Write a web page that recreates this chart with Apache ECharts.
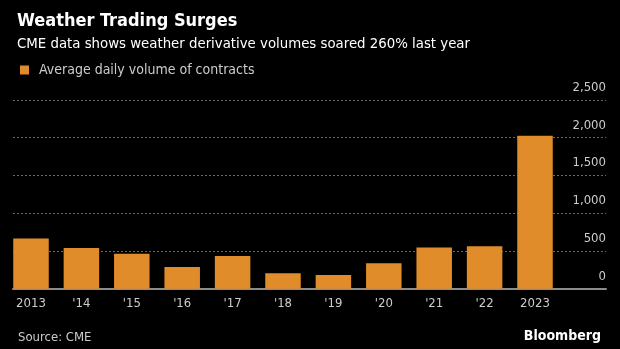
<!DOCTYPE html>
<html>
<head>
<meta charset="utf-8">
<script src="https://cdn.jsdelivr.net/npm/echarts@6/dist/echarts.min.js"></script>
<style>
html,body{margin:0;padding:0;background:#000;}
#chart{width:620px;height:349px;}
</style>
</head>
<body>
<div id="chart"></div>
<script>
var categories = ['2013', "'14", "'15", "'16", "'17", "'18", "'19", "'20", "'21", "'22", '2023'];
var volumes = [665, 540, 462, 287, 432, 205, 180, 338, 545, 563, 2025];
var yTicks = [0, 500, 1000, 1500, 2000, 2500];

var FONT = '"DejaVu Sans Condensed", "DejaVu Sans", sans-serif';
var chart = echarts.init(document.getElementById('chart'), null, {renderer: 'canvas'});
var option = {
  backgroundColor: '#000',
  animation: false,
  title: [
    {text: 'Weather Trading Surges', left: 12, top: 7,
     textStyle: {color: '#fff', fontSize: 18, fontWeight: 'bold', fontFamily: FONT}},
    {text: 'CME data shows weather derivative volumes soared 260% last year', left: 12, top: 32,
     textStyle: {color: '#fff', fontSize: 14.8, fontWeight: 'normal', fontFamily: FONT}},
    {text: 'Source: CME', left: 13, top: 326,
     textStyle: {color: '#ccc', fontSize: 13, fontWeight: 'normal', fontFamily: FONT}},
    {text: 'Bloomberg', right: 14, top: 324,
     textStyle: {color: '#fff', fontSize: 14, fontWeight: 'bold', fontFamily: FONT}}
  ],
  legend: {
    left: 15, top: 58, icon: 'rect', itemWidth: 9, itemHeight: 9,
    textStyle: {color: '#ccc', fontSize: 14, fontFamily: FONT, padding: [0, 0, 0, 5]},
    data: ['Average daily volume of contracts']
  },
  grid: [
    {left: 5.8, right: 9.4, top: 100, bottom: 60.3},
    {left: 13, right: 14, top: 100, bottom: 60.3}
  ],
  xAxis: [
    {type: 'category', gridIndex: 0, data: categories.concat(['']),
     axisLine: {show: false}, axisTick: {show: false},
     axisLabel: {color: '#ccc', fontSize: 13, fontFamily: FONT, margin: 8, interval: 0}},
    {type: 'value', gridIndex: 1, min: 0, max: 1,
     axisLine: {show: true, lineStyle: {color: '#8c8c8c', width: 2}},
     axisTick: {show: false}, axisLabel: {show: false}, splitLine: {show: false}}
  ],
  yAxis: [
    {type: 'value', gridIndex: 0, min: yTicks[0], max: yTicks[yTicks.length - 1], interval: 500, show: false},
    {type: 'value', gridIndex: 1, position: 'right', min: yTicks[0], max: yTicks[yTicks.length - 1], interval: 500,
     axisLine: {show: false}, axisTick: {show: false},
     axisLabel: {inside: true, color: '#ccc', fontSize: 13, fontFamily: FONT, margin: 0,
       verticalAlign: 'bottom', padding: [0, 0, 6, 0],
       formatter: function (v) { return v.toLocaleString('en-US'); }},
     splitLine: {show: true, lineStyle: {color: '#666', type: [2, 2], width: 1}}}
  ],
  series: [
    {name: 'Average daily volume of contracts', type: 'bar', xAxisIndex: 0, yAxisIndex: 0,
     data: volumes, barWidth: 35.5,
     itemStyle: {color: '#e08c2a'}}
  ]
};
chart.setOption(option);
</script>
</body>
</html>
